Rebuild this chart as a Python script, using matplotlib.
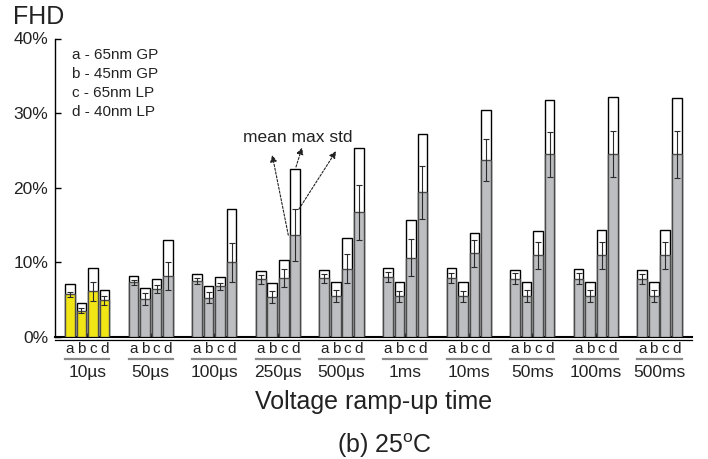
import numpy as np
import matplotlib
matplotlib.use("Agg")
import matplotlib.pyplot as plt

plt.rcParams['font.family'] = ['Liberation Sans', 'DejaVu Sans']
plt.rcParams['mathtext.fontset'] = 'custom'
plt.rcParams['mathtext.rm'] = 'Liberation Sans'

# data (FHD in %)
groups = ["10µs", "50µs", "100µs", "250µs", "500µs", "1ms", "10ms", "50ms", "100ms", "500ms"]
letters = ["a", "b", "c", "d"]
legend_lines = ["a - 65nm GP", "b - 45nm GP", "c - 65nm LP", "d - 40nm LP"]

fhd_mean = [
    [5.71, 3.52, 6.12, 4.95],
    [7.32, 5.05, 6.43, 8.20],
    [7.50, 5.26, 6.79, 10.0],
    [7.76, 5.40, 7.85, 13.65],
    [7.85, 5.49, 9.15, 16.69],
    [7.99, 5.45, 10.62, 19.37],
    [7.95, 5.45, 11.20, 23.69],
    [7.81, 5.49, 10.94, 24.50],
    [7.81, 5.49, 10.94, 24.50],
    [7.76, 5.49, 10.94, 24.50],
]
fhd_max = [
    [7.05, 4.51, 9.20, 6.29],
    [8.20, 6.52, 7.72, 13.03],
    [8.47, 6.87, 8.07, 17.13],
    [8.88, 7.23, 10.35, 22.49],
    [8.93, 7.36, 13.20, 25.26],
    [9.20, 7.40, 15.62, 27.22],
    [9.20, 7.40, 13.96, 30.48],
    [9.02, 7.41, 14.23, 31.82],
    [9.06, 7.36, 14.28, 32.13],
    [8.93, 7.32, 14.28, 32.09],
]
fhd_std = [
    [0.38, 0.30, 1.23, 0.60],
    [0.38, 0.78, 0.60, 1.90],
    [0.40, 0.75, 0.50, 2.60],
    [0.60, 0.78, 1.20, 3.50],
    [0.55, 0.80, 1.96, 3.70],
    [0.67, 0.78, 2.50, 3.50],
    [0.67, 0.78, 1.80, 2.80],
    [0.70, 0.78, 1.80, 3.00],
    [0.70, 0.78, 1.80, 3.10],
    [0.70, 0.78, 1.80, 3.15],
]

GAP = 5.53    # distance between groups, in bar units
W = 0.84

fig = plt.figure(figsize=(7.08, 4.59), dpi=100)
ax = fig.add_axes([55/708, 1 - 337/459, 637/708, 298.5/459])

mean = np.array(fhd_mean)
mx = np.array(fhd_max)
sd = np.array(fhd_std)

xs_all = []
for i, g in enumerate(groups):
    x = i * GAP + np.arange(4)
    xs_all.extend(x)
    fill = '#f2e516' if i == 0 else '#bdbec1'
    ax.bar(x, mx[i], width=W, color='white', edgecolor='black', lw=1.0, zorder=2)
    ax.bar(x, mean[i], width=W, color=fill, edgecolor='#4a4a4a', lw=1.0, zorder=3)
    ax.errorbar(x, mean[i], yerr=sd[i], fmt='none', ecolor='#2a2a2a',
                elinewidth=0.8, capsize=2.2, capthick=0.8, zorder=4)
    # group underline + group name
    tr = ax.get_xaxis_transform()
    ax.plot([x[0] - W/2, x[-1] + W/2], [-0.074, -0.074], transform=tr,
            color='#8a8a8a', lw=1.6, clip_on=False)
    ax.text(x.mean(), -0.118, g, transform=tr, ha='center', va='center', fontsize=12.5,
            color='#222222')

ax.set_xlim(-1.3, 54.1)
ax.set_ylim(0, 40)
ax.set_xticks(xs_all)
ax.set_xticklabels(letters * len(groups), fontsize=11, color='#222222')
ax.set_xticks([i * GAP + 1.5 for i in range(len(groups))], minor=True)
ax.tick_params(axis='x', which='major', length=0, pad=3.5)
ax.tick_params(axis='x', which='minor', direction='in', length=3, width=1.8, color='#333333')
ax.set_yticks([0, 10, 20, 30, 40])
ax.set_yticklabels(["0%", "10%", "20%", "30%", "40%"], fontsize=12.5, color='#222222')
ax.tick_params(axis='y', direction='in', length=4.5, width=1.0, pad=5)

for s in ['top', 'right']:
    ax.spines[s].set_visible(False)
ax.spines['left'].set_linewidth(1.0)
ax.spines['bottom'].set_linewidth(1.5)
ax.axhline(-0.35, color='black', lw=0.9, clip_on=False)

# legend text
for k, t in enumerate(legend_lines):
    ax.text(0.0267, 0.945 - k * 0.0635, t, transform=ax.transAxes, ha='left', va='center',
            fontsize=11, color='#222222')

# annotation for the 250us / d bar
xd = 3 * GAP + 3
ax.text(xd + 0.2, 26.8, "mean max std", ha='center', va='center', fontsize=12.5, color='#222222')
arrow = dict(arrowstyle='-|>', linestyle=(0, (2, 1.5)), lw=0.8, color='#222222', mutation_scale=10,
             shrinkA=0, shrinkB=0)
ax.annotate('', xy=(xd - 2.0, 24.4), xytext=(xd - 0.6, fhd_mean[3][3]), arrowprops=arrow)
ax.annotate('', xy=(xd + 0.6, 25.4), xytext=(xd + 0.07, fhd_max[3][3] + 0.3), arrowprops=arrow)
ax.annotate('', xy=(xd + 3.55, 24.9), xytext=(xd + 0.33, fhd_mean[3][3] + fhd_std[3][3]),
            arrowprops=arrow)

fig.text(13/708, 1 - 17.5/459, "FHD", ha='left', va='center', fontsize=18, color='#222222')
ax.text(0.5, -0.218, "Voltage ramp-up time", transform=ax.transAxes, ha='center', va='center',
        fontsize=18, color='#222222')
fig.text(385/708, 1 - 446/459, r"(b) 25$^{\mathrm{o}}$C", ha='center', va='center', fontsize=18,
         color='#222222')

fig.savefig("out.png", dpi=100)
